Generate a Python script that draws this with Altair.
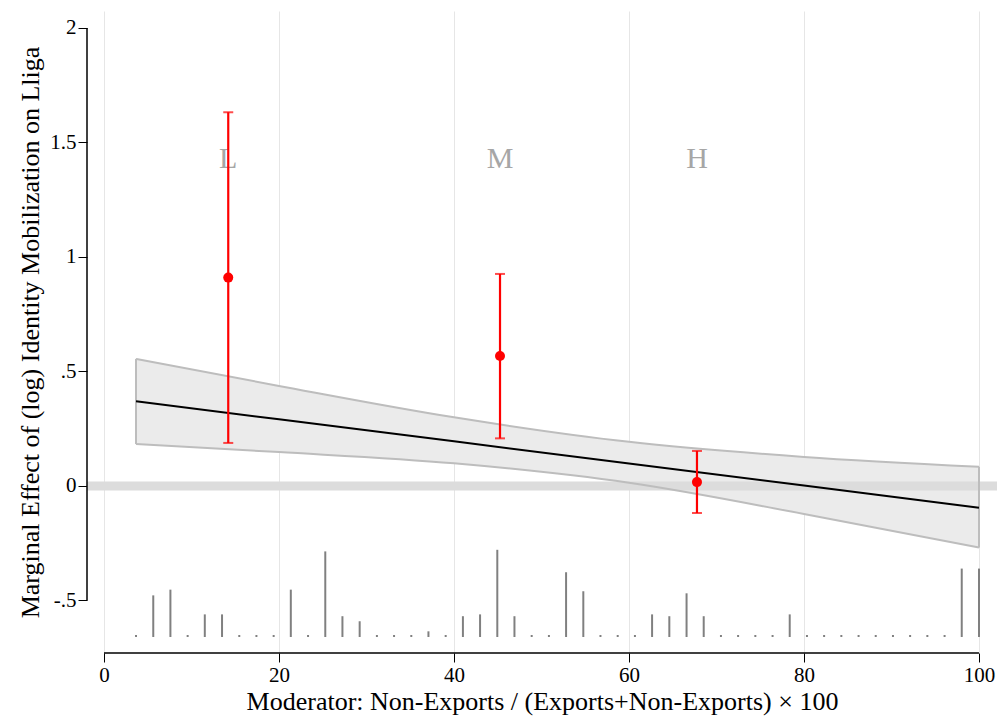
import altair as alt
import pandas as pd

# Moderator grid with the estimated marginal effect and its 95% band
mod_x = [3.66, 20, 40, 60, 80, 100]
effect = [0.370, 0.291, 0.195, 0.098, 0.002, -0.095]
band_hi = [0.555, 0.437, 0.300, 0.193, 0.127, 0.084]
band_lo = [0.183, 0.148, 0.099, 0.014, -0.122, -0.269]

# Group estimates (low / medium / high)
grp_label = ["L", "M", "H"]
grp_x = [14.2, 45.26, 67.77]
grp_est = [0.910, 0.568, 0.017]
grp_hi = [1.632, 0.926, 0.153]
grp_lo = [0.188, 0.208, -0.118]
grp_label_y = 1.39

# Distribution of the moderator (rug histogram along the bottom)
hist_base = -0.655
hist_x = [3.66, 5.63, 7.59, 9.56, 11.52, 13.49, 15.46, 17.42, 19.39, 21.35,
          23.32, 25.29, 27.25, 29.22, 31.19, 33.15, 35.12, 37.08, 39.05, 41.02,
          42.98, 44.95, 46.91, 48.88, 50.85, 52.81, 54.78, 56.74, 58.71, 60.68,
          62.64, 64.61, 66.58, 68.54, 70.51, 72.47, 74.44, 76.41, 78.37, 80.34,
          82.30, 84.27, 86.24, 88.20, 90.17, 92.13, 94.10, 96.07, 98.03, 100.00]
hist_h = [0.0, 0.173, 0.198, 0.0, 0.090, 0.090, 0.0, 0.0, 0.0, 0.198,
          0.0, 0.365, 0.082, 0.060, 0.0, 0.0, 0.0, 0.016, 0.0, 0.082,
          0.090, 0.372, 0.082, 0.0, 0.0, 0.274, 0.191, 0.0, 0.0, 0.0,
          0.090, 0.082, 0.182, 0.082, 0.0, 0.0, 0.0, 0.0, 0.090, 0.0,
          0.0, 0.0, 0.0, 0.0, 0.0, 0.0, 0.0, 0.0, 0.290, 0.290]

x_ticks = [0, 20, 40, 60, 80, 100]
y_ticks = [-0.5, 0, 0.5, 1, 1.5, 2]

W, H = 910, 642
FONT = "Liberation Serif"
xs = alt.Scale(domain=[-1.943, 102.06], nice=False, zero=False)
ys = alt.Scale(domain=[-0.7293, 2.0742], nice=False, zero=False)

band_df = pd.DataFrame({"x": mod_x, "est": effect, "hi": band_hi, "lo": band_lo})
grp_df = pd.DataFrame({"g": grp_label, "x": grp_x, "est": grp_est, "hi": grp_hi, "lo": grp_lo,
                       "ly": [grp_label_y] * 3})
hist_df = pd.DataFrame({"x": hist_x, "h": hist_h})
hist_df["base"] = hist_base
hist_df["top"] = hist_df["base"] + hist_df["h"]

X_TITLE = "Moderator: Non-Exports / (Exports+Non-Exports) × 100"
Y_TITLE = "Marginal Effect of (log) Identity Mobilization on Lliga"

x_axis = alt.Axis(values=x_ticks, grid=True, gridColor="#e6e6e6", gridWidth=1, domain=False,
                  tickSize=9, tickColor="black", labelFont=FONT, labelFontSize=21,
                  labelColor="black", labelPadding=2, title=X_TITLE,
                  titleFont=FONT, titleFontSize=26, titleFontWeight="normal", titleColor="black",
                  titlePadding=3)
y_axis = alt.Axis(values=y_ticks, grid=False, domain=False, tickSize=9, tickColor="black",
                  labelFont=FONT, labelFontSize=21, labelColor="black", labelPadding=2,
                  format="~g",
                  labelExpr="datum.value == 0.5 ? '.5' : datum.value == -0.5 ? '-.5' : datum.label",
                  title=Y_TITLE,
                  titleFont=FONT, titleFontSize=26, titleFontWeight="normal", titleColor="black",
                  titlePadding=6)


def X(field):
    return alt.X(field, scale=xs, axis=x_axis, title=X_TITLE)


def Y(field):
    return alt.Y(field, scale=ys, axis=y_axis, title=Y_TITLE)


base_band = alt.Chart(band_df)

band_fill = base_band.mark_area(color="#ebebeb", interpolate="monotone").encode(
    x=X("x:Q"), y=Y("lo:Q"), y2="hi:Q")

zero_line = alt.Chart(pd.DataFrame({"y": [0]})).mark_rule(color="#dcdcdc", strokeWidth=9).encode(
    y=Y("y:Q"), x=alt.value(0), x2=alt.value(W))

band_hi_line = base_band.mark_line(color="#bdbdbd", strokeWidth=2, interpolate="monotone").encode(
    x=X("x:Q"), y=Y("hi:Q"))
band_lo_line = base_band.mark_line(color="#bdbdbd", strokeWidth=2, interpolate="monotone").encode(
    x=X("x:Q"), y=Y("lo:Q"))
band_side = base_band.transform_filter(
    (alt.datum.x == mod_x[0]) | (alt.datum.x == mod_x[-1])
).mark_rule(color="#bdbdbd", strokeWidth=2).encode(x=X("x:Q"), y=Y("lo:Q"), y2="hi:Q")

effect_line = base_band.mark_line(color="black", strokeWidth=2).encode(x=X("x:Q"), y=Y("est:Q"))

spikes = alt.Chart(hist_df).mark_rule(color="#808080", strokeWidth=2, strokeCap="square").encode(
    x=X("x:Q"), y=Y("base:Q"), y2="top:Q")

# Axis lines spanning only the labelled range
x_line = alt.Chart(pd.DataFrame({"a": [x_ticks[0]], "b": [x_ticks[-1]]})).mark_rule(
    color="black", strokeWidth=1.5).encode(x=X("a:Q"), x2="b:Q", y=alt.value(H))
y_line = alt.Chart(pd.DataFrame({"a": [y_ticks[0]], "b": [y_ticks[-1]]})).mark_rule(
    color="black", strokeWidth=1.5).encode(y=Y("a:Q"), y2="b:Q", x=alt.value(0))

grp_text = alt.Chart(grp_df).mark_text(font=FONT, fontSize=30, color="#a6a6a6",
                                       baseline="alphabetic", align="center").encode(
    x=X("x:Q"), y=Y("ly:Q"), text="g:N")

grp_bar = alt.Chart(grp_df).mark_rule(color="#ff0000", strokeWidth=2.2).encode(
    x=X("x:Q"), y=Y("lo:Q"), y2="hi:Q")
grp_cap_hi = alt.Chart(grp_df).mark_tick(color="#ff0000", thickness=2, size=10,
                                         orient="horizontal").encode(x=X("x:Q"), y=Y("hi:Q"))
grp_cap_lo = alt.Chart(grp_df).mark_tick(color="#ff0000", thickness=2, size=10,
                                         orient="horizontal").encode(x=X("x:Q"), y=Y("lo:Q"))
grp_pt = alt.Chart(grp_df).mark_circle(color="#ff0000", size=100, opacity=1).encode(
    x=X("x:Q"), y=Y("est:Q"))

chart = alt.layer(
    band_fill, zero_line, band_hi_line, band_lo_line, band_side, effect_line,
    spikes, x_line, y_line, grp_text, grp_bar, grp_cap_hi, grp_cap_lo, grp_pt,
).properties(
    width=W, height=H,
    autosize="none",
    padding={"left": 87, "top": 11, "right": 3, "bottom": 67},
    background="white",
).configure_view(stroke=None)

chart.save("out.html", embed_options={"renderer": "svg", "actions": False})
